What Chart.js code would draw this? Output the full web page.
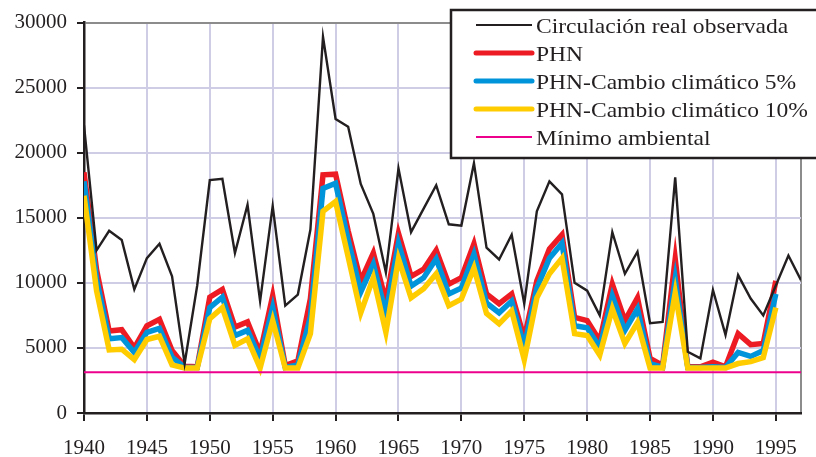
<!DOCTYPE html>
<html>
<head>
<meta charset="utf-8">
<script src="https://cdn.jsdelivr.net/npm/chart.js@4.4.0/dist/chart.umd.min.js"></script>
<style>
  html, body { margin: 0; padding: 0; background: #fff; }
</style>
</head>
<body>
<canvas id="grafico" width="816" height="457"></canvas>
<script>
// datos (caudal anual)
var anios = [];
for (var a = 1940; a <= 1997; a++) anios.push(a);

var circulacionReal = [22100, 12500, 14000, 13300, 9500, 11900, 13000, 10500, 3800, 9800,
  17900, 18000, 12300, 16000, 8600, 15900, 8250, 9100, 14100, 28900,
  22600, 22000, 17600, 15300, 10800, 18800, 13900, 15700, 17500, 14500,
  14400, 19200, 12700, 11800, 13700, 8400, 15500, 17800, 16800, 10000,
  9400, 7500, 13900, 10700, 12400, 6900, 7000, 18100, 4700, 4200,
  9450, 6000, 10600, 8800, 7500, 9800, 12100, 10200];

var phn = [18500, 11000, 6300, 6400, 5000, 6700, 7200, 4800, 3600, 3550,
  8900, 9500, 6600, 7000, 4600, 9000, 3650, 4000, 8800, 18300,
  18350, 14000, 10150, 12300, 8600, 13800, 10500, 11050, 12500, 9900,
  10400, 13000, 9150, 8400, 9150, 5750, 10150, 12600, 13700, 7350,
  7100, 5550, 9900, 7100, 8850, 4200, 3650, 11850, 3550, 3550,
  3900, 3550, 6100, 5250, 5350, 10150];

var phnCambio5 = [17800, 10300, 5700, 5800, 4650, 6200, 6500, 4300, 3500, 3500,
  8100, 8900, 5950, 6350, 4200, 8100, 3500, 3700, 7400, 17250,
  17650, 13300, 9300, 11450, 7650, 13050, 9750, 10400, 11850, 9150,
  9600, 12200, 8450, 7700, 8600, 5100, 9600, 11900, 13050, 6700,
  6550, 5050, 9000, 6350, 8000, 3800, 3500, 10300, 3500, 3500,
  3550, 3500, 4650, 4350, 4800, 9150];

var phnCambio10 = [16700, 9400, 4850, 4900, 4100, 5650, 5900, 3700, 3450, 3450,
  7250, 8100, 5200, 5700, 3450, 7100, 3450, 3450, 6100, 15500,
  16250, 12000, 7700, 10400, 6200, 11850, 8850, 9550, 10700, 8250,
  8750, 11150, 7650, 6850, 7850, 4100, 8850, 10700, 11900, 6100,
  5950, 4450, 8000, 5350, 6950, 3450, 3450, 9250, 3450, 3450,
  3450, 3450, 3800, 3950, 4250, 8100];

var aniosMinimo = [1940, 1997];
var minimoAmbiental = [3130, 3130];

var ticksX = [1940, 1945, 1950, 1955, 1960, 1965, 1970, 1975, 1980, 1985, 1990, 1995];

var nombres = ['Circulación real observada', 'PHN', 'PHN-Cambio climático 5%',
  'PHN-Cambio climático 10%', 'Mínimo ambiental'];
var colores = ['#231f20', '#ed1c24', '#0095da', '#ffcc00', '#ec008c'];
var grosores = [2.4, 5.5, 5.5, 5.5, 2];

function puntos(xs, ys) {
  return ys.map(function (v, i) { return { x: xs[i], y: v }; });
}

function serie(i, datos, orden) {
  return {
    label: nombres[i],
    data: datos,
    borderColor: colores[i],
    backgroundColor: colores[i],
    borderWidth: grosores[i],
    borderJoinStyle: 'miter',
    pointRadius: 0,
    tension: 0,
    order: orden
  };
}

// leyenda con recuadro, dibujada sobre el area del grafico
var leyenda = {
  id: 'leyenda',
  afterDraw: function (chart) {
    var ctx = chart.ctx;
    ctx.save();
    ctx.fillStyle = '#fff';
    ctx.fillRect(451, 10, 380, 148);
    ctx.strokeStyle = '#231f20';
    ctx.lineWidth = 2.5;
    ctx.strokeRect(451, 10, 380, 148);
    ctx.font = '22px "Liberation Serif", serif';
    ctx.textBaseline = 'alphabetic';
    ctx.textAlign = 'left';
    for (var i = 0; i < nombres.length; i++) {
      var y = 25 + i * 28;
      ctx.beginPath();
      ctx.strokeStyle = colores[i];
      ctx.lineWidth = grosores[i] > 3 ? 5 : 2;
      ctx.lineCap = grosores[i] > 3 ? 'round' : 'butt';
      ctx.moveTo(476, y);
      ctx.lineTo(532, y);
      ctx.stroke();
      // el texto original es algo mas ancho (tipo Palatino)
      ctx.save();
      ctx.translate(536, y + 8);
      ctx.scale(1.07, 1);
      ctx.fillStyle = '#231f20';
      ctx.fillText(nombres[i], 0, 0);
      ctx.restore();
    }
    ctx.restore();
  }
};

Chart.defaults.font.family = '"Liberation Serif", serif';
Chart.defaults.font.size = 21;
Chart.defaults.color = '#231f20';

var grafico = new Chart(document.getElementById('grafico'), {
  type: 'line',
  data: {
    datasets: [
      serie(0, puntos(anios, circulacionReal), 0),
      serie(1, puntos(anios, phn), 4),
      serie(2, puntos(anios, phnCambio5), 3),
      serie(3, puntos(anios, phnCambio10), 2),
      serie(4, puntos(aniosMinimo, minimoAmbiental), 1)
    ]
  },
  options: {
    responsive: false,
    animation: false,
    layout: { padding: { top: 20, right: 14, left: 0, bottom: 0 } },
    plugins: { legend: { display: false }, tooltip: { enabled: false } },
    scales: {
      x: {
        type: 'linear',
        min: 1940,
        max: 1997,
        afterBuildTicks: function (scale) {
          scale.ticks = ticksX.concat([1997]).map(function (v) { return { value: v }; });
        },
        afterFit: function (scale) { scale.height = 44; },
        ticks: {
          padding: 15,
          maxRotation: 0,
          autoSkip: false,
          callback: function (v) { return v % 5 === 0 ? String(v) : ''; }
        },
        grid: {
          color: function (c) { return c.tick && c.tick.value === 1997 ? '#8c8c8c' : '#cfcde6'; },
          lineWidth: 2,
          tickLength: 8,
          tickWidth: 2,
          tickColor: function (c) { return c.tick && c.tick.value === 1997 ? 'rgba(0,0,0,0)' : '#231f20'; }
        },
        border: { color: '#231f20', width: 2.5 }
      },
      y: {
        min: 0,
        max: 30000,
        afterFit: function (scale) { scale.width = 84; },
        ticks: {
          stepSize: 5000,
          padding: 10,
          callback: function (v) { return String(v); }
        },
        grid: {
          color: function (c) { return c.tick && c.tick.value === 30000 ? '#8c8c8c' : '#cfcde6'; },
          lineWidth: 2,
          tickLength: 7,
          tickWidth: 2,
          tickColor: '#231f20'
        },
        border: { color: '#231f20', width: 2.5 }
      }
    }
  },
  plugins: [leyenda]
});
</script>
</body>
</html>
